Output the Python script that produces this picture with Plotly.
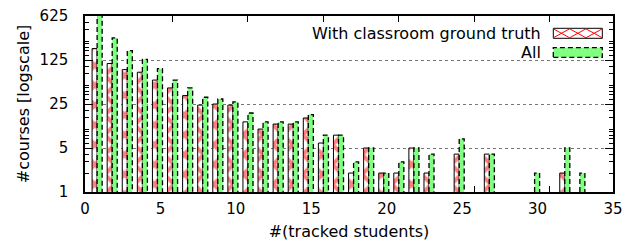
import plotly.graph_objects as go

# ---- data ----
students = list(range(1, 36))
with_truth = [190, 110, 88, 80, 60, 45, 34, 24, 25, 24,
              13, 10, 12, 12, 15, 6, 8, 2, 5, 2,
              2, 5, 2, None, 4, None, 4, None, None, None,
              None, 2, None, None, None]
all_courses = [700, 280, 176, 128, 91, 60, 45, 32, 30, 27,
               18, 13, 13, 13, 17, 8, 8, 3, 5, 2,
               3, 5, 4, None, 7, None, 4, None, None, 2,
               None, 5, 2, None, None]
x_ticks = [0, 5, 10, 15, 20, 25, 30, 35]
y_ticks = [1, 5, 25, 125, 625]
y_ticktext = ["1", "5", "25", "125", "625"]
series_names = ["With classroom ground truth", "All"]

# ---- style ----
FONT = "DejaVu Sans"
FS_KEY = 16
FS_TICK = 15
FS_TITLE = 16
GREEN = "#80ff80"
RED = "#ff0000"
BW = 1 / 3.0
OFF_RED = -0.53
OFF_GREEN = OFF_RED + BW

W, H = 623, 248
L, R, T, B = 85, 10, 16, 56

fig = go.Figure()

fig.add_trace(go.Bar(
    x=students, y=with_truth, name=series_names[0],
    width=BW, offset=OFF_RED,
    marker=dict(color="white",
                line=dict(color="black", width=1),
                pattern=dict(shape="x", fgcolor=RED, bgcolor="white",
                             size=14, solidity=0.5)),
    showlegend=False,
))
fig.add_trace(go.Bar(
    x=students, y=all_courses, name=series_names[1],
    width=BW, offset=OFF_GREEN,
    marker=dict(color=GREEN, line=dict(width=0)),
    showlegend=False,
))

# dashed outline of the "All" bars, derived from the data
ox, oy = [], []
for s, v in zip(students, all_courses):
    if v is None:
        continue
    xl = s + OFF_GREEN
    xr = xl + BW
    ox += [xl, xl, xr, xr, None]
    oy += [1, v, v, 1, None]
fig.add_trace(go.Scatter(
    x=ox, y=oy, mode="lines",
    line=dict(color="black", width=1.3, dash="5px,3px"),
    hoverinfo="skip", showlegend=False,
))

minor_y = []
for p in range(4):
    for m in [2, 3, 4, 6, 7, 8, 9]:
        v = m * 5 ** p
        if v < 625:
            minor_y.append(v)

fig.update_layout(
    width=W, height=H,
    margin=dict(l=L, r=R, t=T, b=B),
    paper_bgcolor="white", plot_bgcolor="white",
    barmode="overlay",
    font=dict(family=FONT, size=FS_TICK, color="black"),
    xaxis=dict(
        range=[0, 35], tickvals=x_ticks, ticks="",
        showline=True, linecolor="black", linewidth=1.5, mirror="ticks",
        showgrid=False, zeroline=False, layer="below traces",
        automargin=False, ticklabeloverflow="allow",
        tickfont=dict(size=FS_TICK),
        minor=dict(tickvals=[t + 0.8 for t in x_ticks[:-1]], ticks="inside",
                   ticklen=6, tickcolor="black", tickwidth=1, showgrid=False),
        title=dict(text="#(tracked students)", standoff=9,
                   font=dict(size=FS_TITLE)),
        ticklabelstandoff=2,
    ),
    yaxis=dict(
        type="log", range=[0, 2.79588],
        tickvals=y_ticks, ticktext=y_ticktext,
        ticks="inside", ticklen=8, tickcolor="black", tickwidth=1,
        showline=True, linecolor="black", linewidth=1.5, mirror="ticks",
        showgrid=True, gridcolor="#777777", griddash="dot", gridwidth=1,
        zeroline=False, automargin=False, ticklabeloverflow="allow",
        tickfont=dict(size=FS_TICK),
        minor=dict(tickvals=minor_y, ticks="inside", ticklen=4,
                   tickcolor="black", tickwidth=1, showgrid=False),
        title=dict(text="#courses [logscale]", standoff=6,
                   font=dict(size=FS_TITLE)),
        ticklabelstandoff=12,
    ),
)

# key (legend) drawn manually: text on the left, sample on the right
PW = W - L - R
PH = H - T - B

def px2x(px):
    return (px - L) / PW

def py2y(py):
    return (H - B - py) / PH

shapes = [
    dict(type="rect", xref="paper", yref="paper", layer="between",
         x0=px2x(262), x1=1, y0=py2y(64), y1=1,
         fillcolor="white", line=dict(width=0)),
    dict(type="rect", xref="paper", yref="paper",
         x0=px2x(553.3), x1=px2x(602.3), y0=py2y(38.3), y1=py2y(28.3),
         fillcolor="white", line=dict(color="black", width=1)),
    dict(type="rect", xref="paper", yref="paper",
         x0=px2x(553.3), x1=px2x(602.3), y0=py2y(57.3), y1=py2y(47.7),
         fillcolor=GREEN, line=dict(color="black", width=1.3, dash="5px,3px")),
]
# red crosses in the key sample
cw = (602.3 - 553.3) / 3.0
for k in range(3):
    a = 553.3 + k * cw
    b = a + cw
    shapes.append(dict(type="line", xref="paper", yref="paper",
                       x0=px2x(a), x1=px2x(b), y0=py2y(28.8), y1=py2y(37.8),
                       line=dict(color=RED, width=1)))
    shapes.append(dict(type="line", xref="paper", yref="paper",
                       x0=px2x(a), x1=px2x(b), y0=py2y(37.8), y1=py2y(28.8),
                       line=dict(color=RED, width=1)))
fig.update_layout(shapes=shapes)

fig.add_annotation(text=series_names[0], xref="paper", yref="paper",
                   x=px2x(543), y=py2y(33.3), xanchor="right", yanchor="middle",
                   showarrow=False, font=dict(family=FONT, size=FS_KEY))
fig.add_annotation(text=series_names[1], xref="paper", yref="paper",
                   x=px2x(543), y=py2y(52.3), xanchor="right", yanchor="middle",
                   showarrow=False, font=dict(family=FONT, size=FS_KEY))

fig.write_html("out.html",
               config={"displayModeBar": False},
               post_script="document.body.style.margin='0';"
                           "document.body.style.overflow='hidden';")
